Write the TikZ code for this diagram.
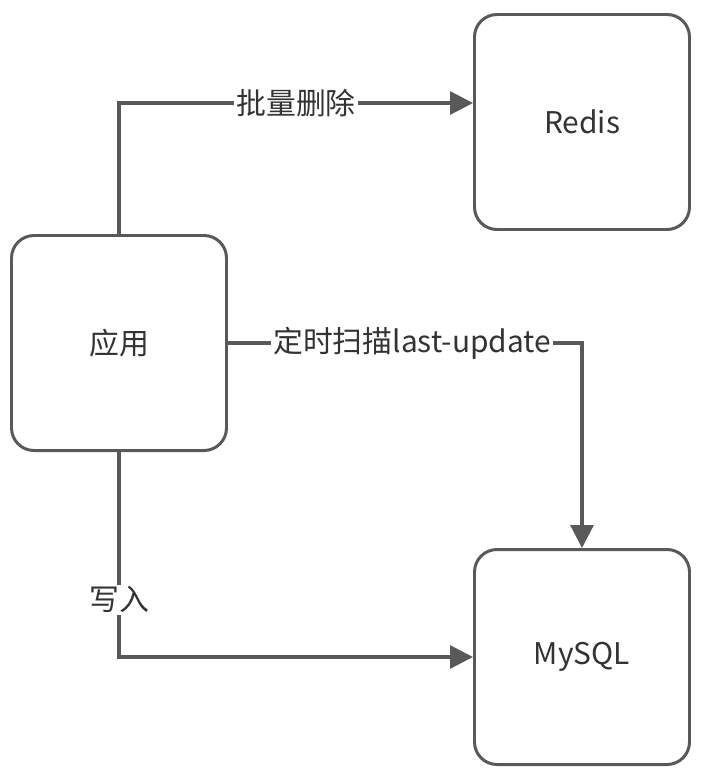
\documentclass[tikz,border=0pt]{standalone}
\usepackage{fontspec}
\setmainfont{Noto Sans CJK SC}
\usepackage{xcolor}
\usetikzlibrary{arrows.meta}
\definecolor{linegray}{HTML}{595959}
\definecolor{textgray}{HTML}{333333}

\begin{document}
\begin{tikzpicture}[
	box/.style = {draw=linegray, line width=1.7pt, rounded corners=0.45cm, minimum width=4.3cm, minimum height=4.3cm, text=textgray, font=\fontsize{17}{20}\selectfont},
	flow/.style = {draw=linegray, line width=1.8pt, -{Triangle[length=13pt,width=13pt]}},
	lbl/.style = {fill=white, text=textgray, inner sep=1pt, font=\fontsize{17}{20}\selectfont}
	]
	\useasboundingbox (0,0) rectangle (14.1,-15.58);

	\node[box] (redis) at (11.64,-2.44) {Redis};
	\node[box] (app) at (2.38,-6.86) {应用};
	\node[box] (mysql) at (11.64,-13.14) {MySQL};

	% arrow into Redis sits above its centre
	\coordinate (redisin) at ([yshift=0.38cm]redis.west);

	\draw[flow] (app.north) |- node[lbl, pos=0.75] {批量删除} (redisin);
	\draw[flow] (app.east) -| node[lbl, pos=0.26] {定时扫描last-update} (mysql.north);
	\draw[flow] (app.south) |- node[lbl, pos=0.36] {写入} (mysql.west);
\end{tikzpicture}
\end{document}
